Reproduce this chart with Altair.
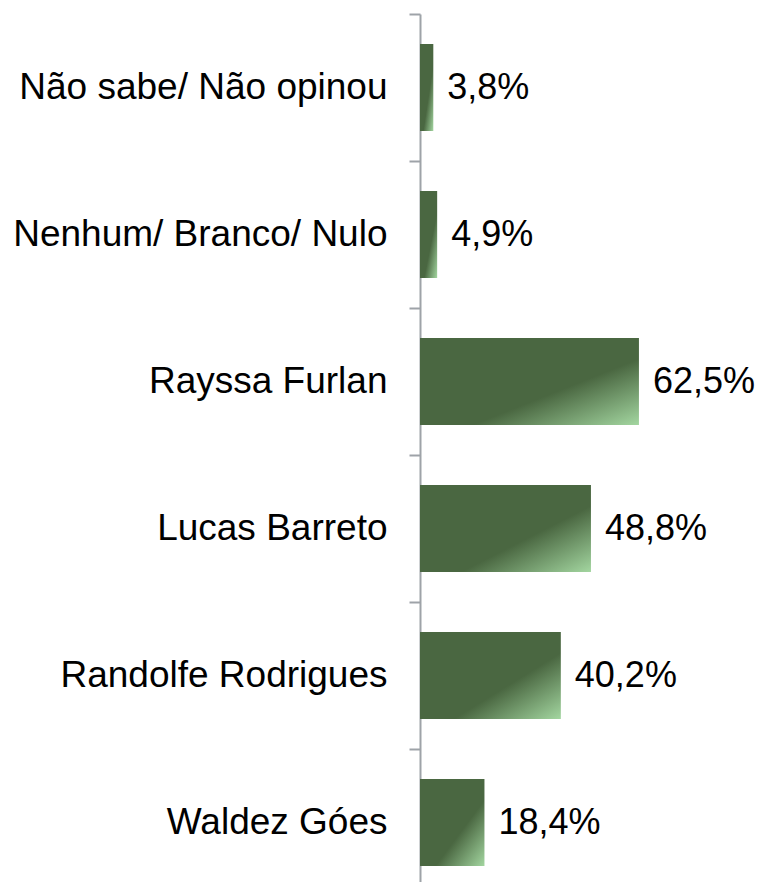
import json
import altair as alt
import pandas as pd

categories = ["Não sabe/ Não opinou", "Nenhum/ Branco/ Nulo", "Rayssa Furlan",
              "Lucas Barreto", "Randolfe Rodrigues", "Waldez Góes"]
values = [3.8, 4.9, 62.5, 48.8, 40.2, 18.4]
labels = ["3,8%", "4,9%", "62,5%", "48,8%", "40,2%", "18,4%"]

n = len(categories)
df = pd.DataFrame({"idx": list(range(n)), "cat": categories, "val": values, "lab": labels})

step = 147
plot_h = 868
plot_w = 337
y_scale = alt.Scale(domain=[-0.5, -0.5 + plot_h / step], reverse=True, nice=False,
                    zero=False, padding=0)

grad = alt.Gradient(
    gradient="linear",
    stops=[alt.GradientStop(color="#4a6741", offset=0),
           alt.GradientStop(color="#4a6741", offset=0.62),
           alt.GradientStop(color="#a3d6a0", offset=1)],
    x1=0, y1=0, x2=1, y2=1,
)

tick_axis = alt.Axis(values=[i - 0.5 for i in range(n)], labels=False, grid=False,
                     domainColor="#9ea3a8", domainWidth=2, tickColor="#9ea3a8",
                     tickWidth=2, tickSize=11, title=None, orient="left")
label_axis = alt.Axis(values=list(range(n)), ticks=False, tickSize=0, domain=False, grid=False,
                      labelExpr=json.dumps(categories) + "[datum.value]",
                      labelPadding=33, labelFont="Liberation Sans", labelFontSize=37,
                      labelColor="#000000", labelLimit=600, labelBaseline="middle",
                      title=None, orient="left")

x_enc = alt.X("val:Q", scale=alt.Scale(domain=[0, 96.2], padding=0, nice=False), axis=None)

bars = alt.Chart(df).mark_bar(color=grad, size=87, orient="horizontal").encode(
    x=x_enc, y=alt.Y("idx:Q", scale=y_scale, axis=tick_axis))
text = alt.Chart(df).mark_text(align="left", baseline="middle", dx=14,
                               font="Liberation Sans", fontSize=36, color="#000000"
                               ).encode(x=x_enc,
                                        y=alt.Y("idx:Q", scale=y_scale, axis=label_axis),
                                        text="lab:N")

chart = (bars + text).resolve_axis(y="independent").properties(
    width=plot_w, height=plot_h,
    autosize=alt.AutoSizeParams(type="none"),
    padding={"left": 412, "top": 6, "right": 0, "bottom": 0},
).configure_view(stroke=None)

chart.save("out.html", embed_options={"renderer": "svg", "actions": False})
